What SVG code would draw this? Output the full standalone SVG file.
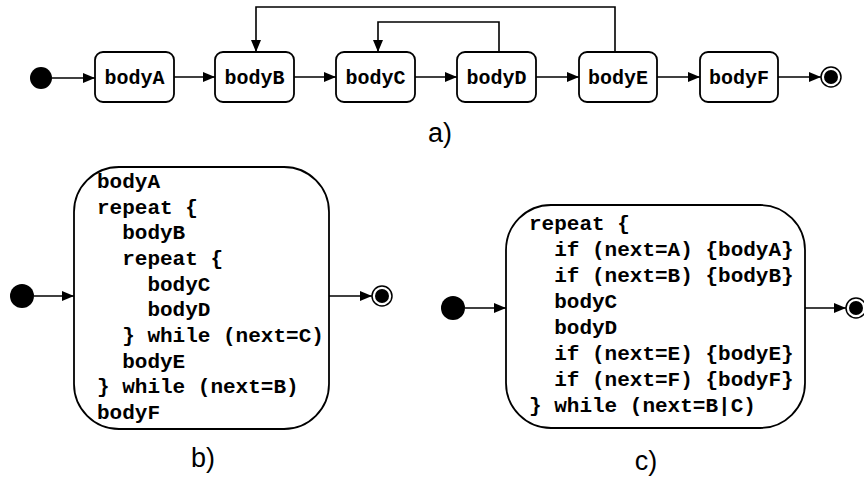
<svg xmlns="http://www.w3.org/2000/svg" width="864" height="479" viewBox="0 0 864 479">
<style>
.n{fill:#fff;stroke:#000;stroke-width:1.8}
.t{font-family:"Liberation Mono",monospace;font-weight:bold;font-size:20px;fill:#000}
.c{font-family:"Liberation Mono",monospace;font-weight:bold;font-size:21px;fill:#000}
.l{font-family:"Liberation Sans",Arial,sans-serif;font-size:27px;fill:#000}
.e{fill:none;stroke:#000;stroke-width:1.6}
</style>
<defs>
<marker id="ah" markerWidth="12" markerHeight="10" refX="12" refY="5" orient="auto" markerUnits="userSpaceOnUse">
<path d="M0,0 L12,5 L0,10 z" fill="#000"/>
</marker>
</defs>
<g id="connectors">
<path class="e" d="M52,78 H95" marker-end="url(#ah)"/>
<path class="e" d="M174,77 H215" marker-end="url(#ah)"/>
<path class="e" d="M294,77 H336" marker-end="url(#ah)"/>
<path class="e" d="M415,77 H457" marker-end="url(#ah)"/>
<path class="e" d="M536,77 H579" marker-end="url(#ah)"/>
<path class="e" d="M657,77 H700" marker-end="url(#ah)"/>
<path class="e" d="M778,77 H821" marker-end="url(#ah)"/>
<path class="e" d="M615,52 V7 H256 V52" marker-end="url(#ah)"/>
<path class="e" d="M499,52 V22 H378 V52" marker-end="url(#ah)"/>
<path class="e" d="M34,296 H74" marker-end="url(#ah)"/>
<path class="e" d="M329,296 H372" marker-end="url(#ah)"/>
<path class="e" d="M465,308 H506" marker-end="url(#ah)"/>
<path class="e" d="M805,308 H846" marker-end="url(#ah)"/>
</g>
<g id="startA"><circle cx="41" cy="78" r="11" fill="#000"/></g>
<g id="bodyA"><rect class="n" x="95" y="52" width="79" height="50" rx="8"/><text class="t" x="134.5" y="84" text-anchor="middle">bodyA</text></g>
<g id="bodyB"><rect class="n" x="215" y="52" width="79" height="50" rx="8"/><text class="t" x="254.5" y="84" text-anchor="middle">bodyB</text></g>
<g id="bodyC"><rect class="n" x="336" y="52" width="79" height="50" rx="8"/><text class="t" x="375.5" y="84" text-anchor="middle">bodyC</text></g>
<g id="bodyD"><rect class="n" x="457" y="52" width="79" height="50" rx="8"/><text class="t" x="496.5" y="84" text-anchor="middle">bodyD</text></g>
<g id="bodyE"><rect class="n" x="579" y="52" width="78" height="50" rx="8"/><text class="t" x="618" y="84" text-anchor="middle">bodyE</text></g>
<g id="bodyF"><rect class="n" x="700" y="52" width="78" height="50" rx="8"/><text class="t" x="739" y="84" text-anchor="middle">bodyF</text></g>
<g id="endA"><circle cx="831" cy="77" r="10" fill="#fff" stroke="#000" stroke-width="1.5"/><circle cx="831" cy="77" r="7" fill="#000"/></g>
<text class="l" x="440" y="142" text-anchor="middle">a)</text>

<g id="startB"><circle cx="22" cy="296" r="12" fill="#000"/></g>
<g id="boxB"><rect class="n" x="74" y="167" width="255" height="262" rx="45"/>
<text class="c" xml:space="preserve"><tspan x="97" y="188">bodyA</tspan><tspan x="97" y="213.7">repeat {</tspan><tspan x="97" y="239.4">  bodyB</tspan><tspan x="97" y="265">  repeat {</tspan><tspan x="97" y="290.7">    bodyC</tspan><tspan x="97" y="316.4">    bodyD</tspan><tspan x="97" y="342">  } while (next=C)</tspan><tspan x="97" y="367.7">  bodyE</tspan><tspan x="97" y="393.4">} while (next=B)</tspan><tspan x="97" y="419">bodyF</tspan></text></g>
<g id="endB"><circle cx="382" cy="296" r="10" fill="#fff" stroke="#000" stroke-width="1.5"/><circle cx="382" cy="296" r="7" fill="#000"/></g>
<text class="l" x="203" y="467" text-anchor="middle">b)</text>

<g id="startC"><circle cx="453" cy="308" r="12" fill="#000"/></g>
<g id="boxC"><rect class="n" x="506" y="205" width="299" height="223" rx="45"/>
<text class="c" xml:space="preserve"><tspan x="529" y="230">repeat {</tspan><tspan x="529" y="256">  if (next=A) {bodyA}</tspan><tspan x="529" y="282">  if (next=B) {bodyB}</tspan><tspan x="529" y="308">  bodyC</tspan><tspan x="529" y="334">  bodyD</tspan><tspan x="529" y="360">  if (next=E) {bodyE}</tspan><tspan x="529" y="386">  if (next=F) {bodyF}</tspan><tspan x="529" y="412">} while (next=B|C)</tspan></text></g>
<g id="endC"><circle cx="856" cy="308" r="10" fill="#fff" stroke="#000" stroke-width="1.5"/><circle cx="856" cy="308" r="7" fill="#000"/></g>
<text class="l" x="646" y="470" text-anchor="middle">c)</text>
</svg>
